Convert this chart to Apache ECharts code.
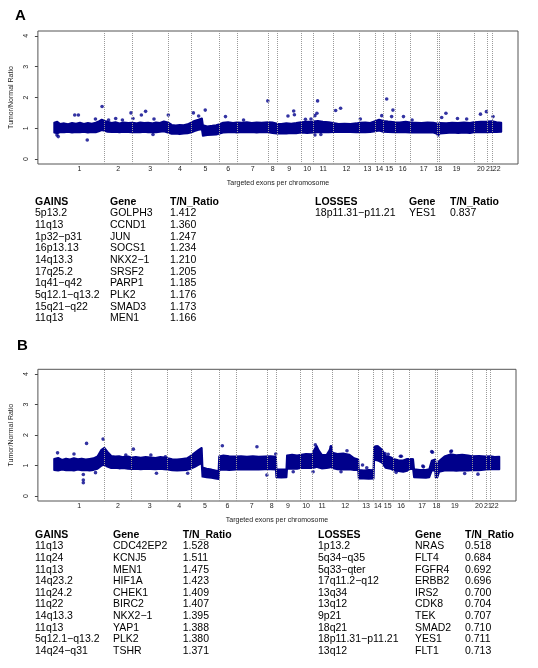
<!DOCTYPE html>
<html><head><meta charset="utf-8">
<script src="https://cdn.jsdelivr.net/npm/echarts@6/dist/echarts.min.js"></script>
<style>html,body{margin:0;padding:0;background:#fff}#c{width:538px;height:668px}</style>
</head><body><div id="c"></div>
<script>
// ---------- Data ----------
const chromNames = ['1','2','3','4','5','6','7','8','9','10','11','12','13','14','15','16','17','18','19','20','21','22'];
// cumulative targeted-exon index at end of each chromosome
const chromEnds = [510,787,1154,1390,1674,1850,2167,2257,2500,2624,2824,3094,3250,3334,3450,3607,3877,3900,4250,4390,4434,4527];

// Panel A: dense band of exon ratios (lower / upper envelope)
const aBandX  = [0,30,60,100,140,180,220,260,300,340,380,420,450,480,510,540,580,620,660,700,750,787,830,870,910,950,990,1030,1070,1110,1150,1190,1230,1270,1310,1350,1390,1420,1460,1495,1505,1550,1600,1640,1674,1710,1760,1810,1850,1900,1950,2000,2050,2100,2167,2210,2257,2300,2350,2400,2450,2500,2560,2624,2670,2720,2780,2824,2880,2940,3000,3060,3094,3150,3200,3250,3290,3334,3380,3450,3500,3560,3607,3660,3720,3780,3840,3877,3890,3905,3970,4030,4090,4150,4210,4250,4320,4390,4434,4480,4527];
const aBandLo = [0.86,0.84,0.88,0.87,0.89,0.86,0.88,0.87,0.89,0.86,0.88,0.87,0.90,0.94,0.92,0.89,0.88,0.89,0.87,0.89,0.88,0.87,0.88,0.87,0.89,0.87,0.88,0.87,0.89,0.90,0.86,0.82,0.83,0.81,0.83,0.84,0.87,0.91,0.95,0.97,0.76,0.78,0.79,0.80,0.83,0.86,0.87,0.88,0.86,0.88,0.87,0.88,0.86,0.88,0.87,0.85,0.83,0.84,0.83,0.85,0.84,0.86,0.85,0.86,0.87,0.88,0.87,0.88,0.88,0.89,0.88,0.87,0.88,0.87,0.88,0.90,0.93,0.89,0.88,0.87,0.88,0.87,0.86,0.87,0.86,0.87,0.86,0.82,0.79,0.83,0.85,0.86,0.85,0.86,0.85,0.87,0.88,0.87,0.88,0.88,0.89];
const aBandHi = [1.18,1.21,1.14,1.16,1.13,1.17,1.15,1.18,1.14,1.17,1.15,1.18,1.22,1.28,1.24,1.21,1.17,1.20,1.16,1.19,1.17,1.18,1.16,1.19,1.17,1.18,1.16,1.19,1.17,1.22,1.19,1.11,1.09,1.11,1.10,1.13,1.19,1.24,1.28,1.32,1.10,1.06,1.08,1.10,1.13,1.18,1.20,1.17,1.19,1.18,1.20,1.17,1.19,1.18,1.20,1.19,1.15,1.14,1.16,1.15,1.17,1.20,1.21,1.22,1.24,1.21,1.20,1.17,1.14,1.15,1.14,1.16,1.18,1.19,1.17,1.23,1.28,1.24,1.22,1.20,1.19,1.21,1.19,1.18,1.17,1.19,1.18,1.16,1.15,1.17,1.16,1.18,1.17,1.19,1.17,1.20,1.21,1.22,1.23,1.20,1.18];
// Panel A: individual outlying exons
const aOutX = [27,40,207,244,334,417,484,550,622,690,777,797,882,925,1010,1000,1155,1409,1462,1529,1734,1917,2163,2367,2425,2432,2544,2600,2667,2660,2640,2640,2700,2850,2900,3100,3317,3367,3430,3417,3537,3624,3890,3924,3967,4084,4177,4317,4377,4444];
const aOutY = [0.78,0.73,1.43,1.43,0.62,1.30,1.71,1.27,1.32,1.27,1.50,1.32,1.43,1.55,1.30,0.80,1.43,1.50,1.40,1.59,1.38,1.27,1.89,1.40,1.56,1.44,1.29,1.30,1.89,1.49,1.41,0.78,0.80,1.58,1.65,1.30,1.41,1.95,1.59,1.38,1.38,1.27,0.78,1.35,1.49,1.32,1.30,1.46,1.54,1.38];

// Panel B: dense band
const bBandX  = [0,40,80,120,160,200,240,280,320,360,400,440,480,510,540,580,620,660,700,750,787,830,880,930,980,1030,1080,1120,1154,1200,1250,1300,1350,1390,1430,1470,1500,1508,1550,1600,1640,1672,1678,1720,1780,1850,1900,1960,2020,2080,2140,2200,2255,2260,2310,2362,2368,2420,2470,2500,2560,2624,2650,2670,2690,2720,2770,2800,2815,2830,2880,2940,3000,3050,3092,3098,3150,3200,3248,3254,3290,3334,3370,3420,3450,3500,3550,3590,3607,3650,3660,3720,3780,3815,3840,3875,3880,3898,3915,3970,4030,4090,4150,4210,4250,4320,4390,4434,4480,4527];
const bBandLo = [0.86,0.84,0.87,0.85,0.86,0.84,0.87,0.85,0.86,0.84,0.86,0.90,1.00,1.03,0.97,0.92,0.93,0.91,0.92,0.90,0.89,0.90,0.88,0.90,0.89,0.88,0.90,0.88,0.87,0.85,0.84,0.85,0.86,0.90,0.96,1.03,1.08,0.64,0.62,0.60,0.58,0.56,0.86,0.87,0.86,0.87,0.88,0.87,0.88,0.87,0.88,0.88,0.87,0.62,0.61,0.62,0.90,0.91,0.90,0.92,0.93,0.92,0.94,0.96,0.94,0.91,0.92,0.94,0.96,0.92,0.88,0.87,0.88,0.86,0.86,0.58,0.58,0.57,0.58,1.20,1.17,1.10,0.93,0.90,0.85,0.82,0.80,0.83,0.88,0.90,0.62,0.61,0.60,0.62,0.84,0.84,0.62,0.63,0.80,0.84,0.85,0.83,0.85,0.84,0.86,0.85,0.87,0.88,0.89,0.88];
const bBandHi = [1.22,1.25,1.19,1.23,1.20,1.24,1.21,1.23,1.20,1.22,1.24,1.30,1.52,1.58,1.46,1.32,1.30,1.31,1.28,1.30,1.27,1.28,1.26,1.28,1.27,1.25,1.28,1.27,1.24,1.21,1.20,1.22,1.24,1.32,1.42,1.52,1.58,0.94,0.90,0.87,0.84,0.82,1.30,1.33,1.31,1.30,1.31,1.29,1.31,1.29,1.30,1.31,1.29,0.88,0.87,0.88,1.33,1.36,1.33,1.35,1.38,1.37,1.55,1.64,1.50,1.36,1.35,1.50,1.64,1.42,1.38,1.40,1.36,1.24,1.20,0.86,0.84,0.86,0.85,1.62,1.64,1.52,1.32,1.28,1.22,1.18,1.17,1.22,1.22,1.21,0.88,0.86,0.86,0.88,1.16,1.20,1.05,1.07,1.15,1.30,1.37,1.34,1.36,1.33,1.31,1.32,1.30,1.31,1.28,1.29];
// Panel B: individual outlying exons
const bOutX = [34,201,296,296,296,329,420,497,805,728,983,1040,1131,1358,1710,2062,2163,2253,2431,2633,2656,2817,2917,2978,3136,3179,3277,3364,3397,3478,3521,3531,3639,3749,3756,3840,3847,4034,4041,4175,4310];
const bOutY = [1.42,1.38,0.71,0.53,0.44,1.73,0.77,1.87,1.54,1.35,1.35,0.75,1.29,0.75,1.65,1.62,0.69,1.38,0.80,0.80,1.68,1.62,0.80,1.49,1.02,0.93,1.62,1.40,1.37,0.78,1.31,1.31,1.19,0.99,0.96,1.46,1.44,1.46,1.48,0.74,0.72];

// Tables
const aGainRegion = ['5p13.2','11q13','1p32\u2212p31','16p13.13','14q13.3','17q25.2','1q41\u2212q42','5q12.1\u2212q13.2','15q21\u2212q22','11q13'];
const aGainGene   = ['GOLPH3','CCND1','JUN','SOCS1','NKX2\u22121','SRSF2','PARP1','PLK2','SMAD3','MEN1'];
const aGainRatio  = ['1.412','1.360','1.247','1.234','1.210','1.205','1.185','1.176','1.173','1.166'];
const aLossRegion = ['18p11.31\u2212p11.21'];
const aLossGene   = ['YES1'];
const aLossRatio  = ['0.837'];
const bGainRegion = ['11q13','11q24','11q13','14q23.2','11q24.2','11q22','14q13.3','11q13','5q12.1\u2212q13.2','14q24\u2212q31'];
const bGainGene   = ['CDC42EP2','KCNJ5','MEN1','HIF1A','CHEK1','BIRC2','NKX2\u22121','YAP1','PLK2','TSHR'];
const bGainRatio  = ['1.528','1.511','1.475','1.423','1.409','1.407','1.395','1.388','1.380','1.371'];
const bLossRegion = ['1p13.2','5q34\u2212q35','5q33\u2212qter','17q11.2\u2212q12','13q34','13q12','9p21','18q21','18p11.31\u2212p11.21','13q12'];
const bLossGene   = ['NRAS','FLT4','FGFR4','ERBB2','IRS2','CDK8','TEK','SMAD2','YES1','FLT1'];
const bLossRatio  = ['0.518','0.684','0.692','0.696','0.700','0.704','0.707','0.710','0.711','0.713'];
const yTicks = [0,1,2,3,4];

// ---------- Build ----------
const FONT = '"Liberation Sans", Arial, Helvetica, sans-serif';
const NAVY = '#00008B';
const boundaries = chromEnds.slice(0, -1);
const mids = chromEnds.map((e, i) => ((i === 0 ? 0 : chromEnds[i-1]) + e) / 2);
const midsOdd = mids.filter((m, i) => i % 2 === 0);   // chromosomes 1,3,5,...
const midsEven = mids.filter((m, i) => i % 2 === 1);  // chromosomes 2,4,6,...

function xAxisCfg(gi, vals, withName) {
  const ax = {
    type: 'value', gridIndex: gi, position: 'bottom', offset: 0, min: -166, max: 4697,
    axisLine: {show: false, onZero: false}, splitLine: {show: false},
    axisTick: {show: false},
    axisLabel: {
      customValues: vals, margin: 1.5, fontSize: 7, color: '#222', fontFamily: FONT,
      hideOverlap: false, showMinLabel: true, showMaxLabel: true,
      formatter: v => { const i = mids.indexOf(v); return i >= 0 ? chromNames[i] : ''; }
    }
  };
  if (withName) {
    ax.name = 'Targeted exons per chromosome';
    ax.nameLocation = 'middle';
    ax.nameGap = 16;
    ax.nameTextStyle = {fontSize: 7, color: '#222', fontFamily: FONT};
  }
  return ax;
}
function yAxisCfg(gi) {
  return {
    type: 'value', gridIndex: gi, position: 'left', min: -0.16, max: 4.16,
    axisLine: {show: false, onZero: false}, splitLine: {show: false},
    axisTick: {show: true, customValues: yTicks, length: 3, lineStyle: {color: '#444'}},
    axisLabel: {customValues: yTicks, rotate: 90, margin: 8, fontSize: 7, color: '#222', fontFamily: FONT},
    name: 'Tumor/Normal Ratio', nameLocation: 'middle', nameGap: 15, nameRotate: 90,
    nameTextStyle: {fontSize: 7, color: '#222', fontFamily: FONT}
  };
}
function bandSeries(gi, X, Lo, Hi) {
  return {
    type: 'custom', xAxisIndex: gi, yAxisIndex: gi, silent: true, clip: true,
    data: [[X[0], Lo[0]]], z: 2,
    renderItem: (params, api) => {
      const pts = [];
      for (let i = 0; i < X.length; i++) pts.push(api.coord([X[i], Hi[i]]));
      for (let i = X.length - 1; i >= 0; i--) pts.push(api.coord([X[i], Lo[i]]));
      return {type: 'polygon', shape: {points: pts},
        style: {fill: NAVY, stroke: NAVY, lineWidth: 2, lineJoin: 'round'}};
    }
  };
}
function outSeries(gi, X, Y) {
  return {
    type: 'scatter', xAxisIndex: gi, yAxisIndex: gi, symbolSize: 3.6, silent: true, z: 3,
    itemStyle: {color: NAVY}, data: X.map((x, i) => [x, Y[i]]),
    markLine: {
      silent: true, symbol: 'none', label: {show: false},
      lineStyle: {type: 'dotted', color: '#9a9a9a', width: 1},
      data: boundaries.map(b => ({xAxis: b}))
    }
  };
}

const graphics = [];
function txt(x, y, s, bold, size) {
  graphics.push({type: 'text', x: x, y: y, silent: true,
    style: {text: s, fill: '#000', font: (bold ? 'bold ' : '') + (size || 10.5) + 'px ' + FONT,
      align: 'left', verticalAlign: 'middle'}});
}
function table(cols, headers, y0, dy, columns) {
  headers.forEach((h, i) => txt(cols[i], y0, h, true));
  columns.forEach((arr, ci) => arr.forEach((s, r) => txt(cols[ci], y0 + dy * (r + 1), s, false)));
}
txt(15, 16, 'A', true, 15);
txt(17, 346, 'B', true, 15);
table([35, 110, 170], ['GAINS', 'Gene', 'T/N_Ratio'], 201.7, 11.67, [aGainRegion, aGainGene, aGainRatio]);
table([315, 409, 450], ['LOSSES', 'Gene', 'T/N_Ratio'], 201.7, 11.67, [aLossRegion, aLossGene, aLossRatio]);
table([35, 113, 182.7], ['GAINS', 'Gene', 'T/N_Ratio'], 535, 11.6, [bGainRegion, bGainGene, bGainRatio]);
table([318, 415, 465], ['LOSSES', 'Gene', 'T/N_Ratio'], 535, 11.6, [bLossRegion, bLossGene, bLossRatio]);

const chart = echarts.init(document.getElementById('c'), null, {renderer: 'canvas'});
chart.setOption({
  animation: false,
  backgroundColor: '#fff',
  grid: [
    {left: 31.7, top: 31, width: 486.3, height: 133, show: true, borderColor: '#555', borderWidth: 1, backgroundColor: 'transparent'},
    {left: 31.7, top: 369.3, width: 484.3, height: 131.7, show: true, borderColor: '#555', borderWidth: 1, backgroundColor: 'transparent'}
  ],
  xAxis: [xAxisCfg(0, midsOdd, true), xAxisCfg(1, midsOdd, true), xAxisCfg(0, midsEven, false), xAxisCfg(1, midsEven, false)],
  yAxis: [yAxisCfg(0), yAxisCfg(1)],
  series: [
    bandSeries(0, aBandX, aBandLo, aBandHi), outSeries(0, aOutX, aOutY),
    bandSeries(1, bBandX, bBandLo, bBandHi), outSeries(1, bOutX, bOutY)
  ],
  graphic: graphics
});
</script></body></html>
